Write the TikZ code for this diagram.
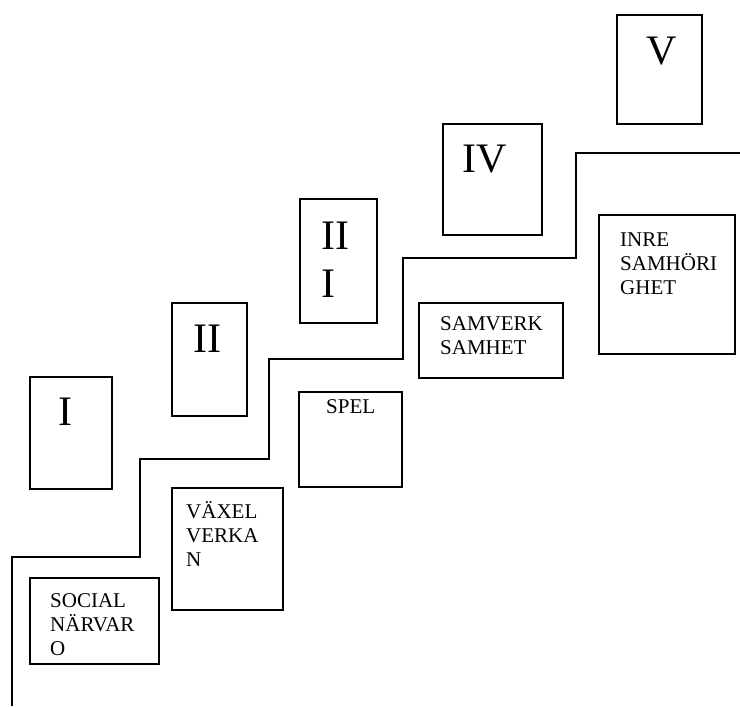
\documentclass[tikz,border=0pt]{standalone}
\usepackage{fontspec}
\setmainfont{Liberation Serif}
\begin{document}
\begin{tikzpicture}[x=1pt,y=-1pt,
  box/.style={draw,line width=2.1pt,rectangle,inner sep=0pt},
  numeral/.style={font=\fontsize{42}{48}\selectfont,inner sep=0pt},
  label/.style={font=\fontsize{21}{24}\selectfont,inner sep=0pt,anchor=north west,align=left},
  stair/.style={line width=2.1pt}]
\useasboundingbox (0,0) rectangle (740,707);
% stair line
\draw[stair] (12,706) -- (12,557) -- (140,557) -- (140,459) -- (269,459) -- (269,359)
  -- (403,359) -- (403,258) -- (576,258) -- (576,153) -- (741,153);
% numeral boxes
\node[box,minimum width=82pt,minimum height=112pt] (b1) at (71,433) {};
\node[box,minimum width=75pt,minimum height=113pt] (b2) at (209.5,359.5) {};
\node[box,minimum width=77pt,minimum height=124pt] (b3) at (338.5,261) {};
\node[box,minimum width=99pt,minimum height=111pt] (b4) at (492.5,179.5) {};
\node[box,minimum width=85pt,minimum height=109pt] (b5) at (659.5,69.5) {};
\node[numeral] (n1) at (65,412) {I};
\node[numeral] (n2) at (207,339) {II};
\node[numeral,anchor=north west,align=left,font=\fontsize{42}{48}\selectfont] (n3) at (321,215) {\rule{0pt}{34pt}II\\I};
\node[numeral] (n4) at (485,159) {IV};
\node[numeral] (n5) at (662,51) {V};
% stage boxes
\node[box,minimum width=129pt,minimum height=86pt] (s1) at (94.5,621) {};
\node[box,minimum width=111pt,minimum height=122pt] (s2) at (227.5,549) {};
\node[box,minimum width=103pt,minimum height=95pt] (s3) at (350.5,439.5) {};
\node[box,minimum width=144pt,minimum height=75pt] (s4) at (491,340.5) {};
\node[box,minimum width=136pt,minimum height=139pt] (s5) at (667,284.5) {};
\node[label] (t1) at (50,587) {\rule{0pt}{20pt}SOCIAL\\NÄRVAR\\O};
\node[label] (t2) at (186,498) {\rule{0pt}{20pt}VÄXEL\\VERKA\\N};
\node[label] (t3) at (326,393) {\rule{0pt}{20pt}SPEL};
\node[label] (t4) at (440,310) {\rule{0pt}{20pt}SAMVERK\\SAMHET};
\node[label] (t5) at (620,226) {\rule{0pt}{20pt}INRE\\SAMHÖRI\\GHET};
\end{tikzpicture}
\end{document}
